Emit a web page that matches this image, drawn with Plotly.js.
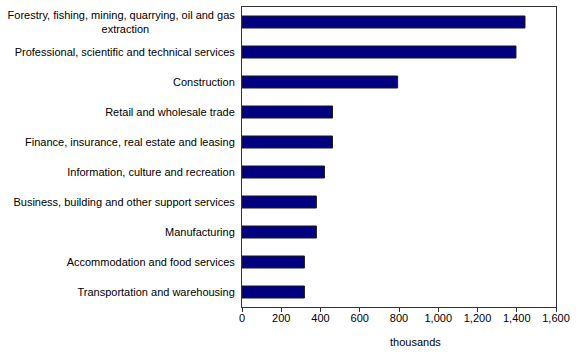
<!DOCTYPE html>
<html>
<head>
<meta charset="utf-8">
<script src="https://cdn.plot.ly/plotly-3.0.1.min.js"></script>
<style>html,body{margin:0;padding:0;background:#fff;}#chart{width:582px;height:355px;}</style>
</head>
<body>
<div id="chart"></div>
<script>
const categories = [
  "Forestry, fishing, mining, quarrying, oil and gas<br>extraction" + "\u00a0".repeat(28),
  "Professional, scientific and technical services",
  "Construction",
  "Retail and wholesale trade",
  "Finance, insurance, real estate and leasing",
  "Information, culture and recreation",
  "Business, building and other support services",
  "Manufacturing",
  "Accommodation and food services",
  "Transportation and warehousing"
];
const values = [1442, 1396, 793, 461, 461, 420, 379, 379, 318, 318];
const xTickVals = [0, 200, 400, 600, 800, 1000, 1200, 1400, 1600];
const xTickText = ["0", "200", "400", "600", "800", "1,000", "1,200", "1,400", "1,600"];
const xTitle = "thousands";

const trace = {
  type: "bar",
  orientation: "h",
  x: values.slice().reverse(),
  y: categories.slice().reverse(),
  marker: {color: "#000080", line: {color: "#1a1a1a", width: 1}},
  hoverinfo: "none"
};

const layout = {
  width: 582, height: 355,
  margin: {l: 242, r: 26, t: 7, b: 48},
  paper_bgcolor: "#fff", plot_bgcolor: "#fff",
  font: {family: "Liberation Sans, Arial, sans-serif", size: 11, color: "#000"},
  bargap: 0.6,
  showlegend: false,
  xaxis: {
    range: [0, 1600],
    tickvals: xTickVals, ticktext: xTickText,
    ticks: "outside", ticklen: 4, tickcolor: "#333",
    ticklabelstandoff: -3,
    showgrid: false, zeroline: false,
    showline: true, linecolor: "#333", linewidth: 1, mirror: true,
    fixedrange: true
  },
  yaxis: {
    showgrid: false, zeroline: false,
    showline: true, linecolor: "#333", linewidth: 1, mirror: true,
    ticks: "", ticklabelstandoff: 4,
    fixedrange: true
  },
  annotations: [{
    text: xTitle, xref: "paper", yref: "paper",
    x: 0.554, y: 0, yshift: -35, xanchor: "center", yanchor: "middle",
    showarrow: false, font: {size: 11}
  }]
};

Plotly.newPlot("chart", [trace], layout, {displayModeBar: false, staticPlot: true});
</script>
</body>
</html>
